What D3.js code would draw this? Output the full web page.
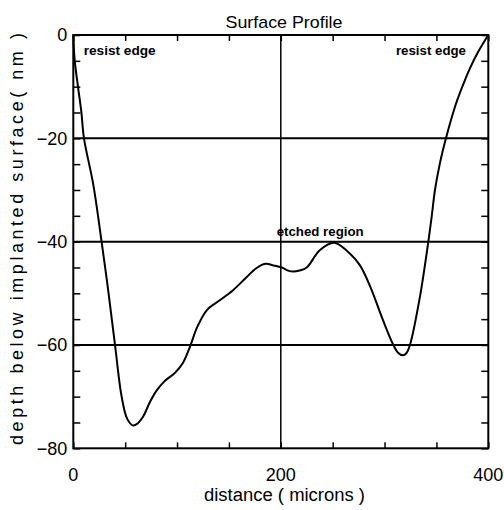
<!DOCTYPE html>
<html>
<head>
<meta charset="utf-8">
<script src="https://cdn.jsdelivr.net/npm/d3@7"></script>
<style>
  body { margin: 0; background: #fff; }
  text { font-family: "Liberation Sans", Arial, sans-serif; fill: #000; }
</style>
</head>
<body>
<svg id="chart"></svg>
<script>
// profile: distance (microns) and depth (nm)
const distance = [0, 1.3, 4.5, 7.7, 10.3, 19.3, 27.4, 34, 40.2, 46.6, 52, 57.8, 62, 67.2, 74, 80.4, 88, 98, 105.6,
  112.7, 119.5, 129, 141.6, 154, 167.4, 176, 185, 193, 201, 207, 212, 218, 225, 237.8, 251.5, 263.8, 276,
  286, 298.5, 308, 313, 317.8, 321, 324.5, 334, 342.2, 345.4, 348.6, 353.4, 359.2, 367.9, 374.4, 382.4, 390.4, 400];
const depth = [0, -4.8, -10, -14.8, -20, -29, -40.2, -50, -60, -70, -74.3, -75.6, -75.2, -73.9, -71, -68.8, -67, -65.4, -63.5,
  -60.2, -56.5, -53.2, -51.3, -49.4, -46.8, -45.2, -44.3, -44.6, -45, -45.6, -45.8, -45.6, -45, -41.6, -40.2, -41.8, -44.5,
  -48.6, -55.2, -59.8, -61.5, -62, -61.6, -60, -50.8, -40, -35.2, -30, -24.8, -20, -13.9, -10.3, -6.4, -3.2, 0];

const xLabels = [0, 200, 400];
const yLabels = [0, -20, -40, -60, -80];
const hGrid = [-20, -40, -60];
const vGrid = [200];
const notes = [
  {text: "resist edge", x: 10, y: -3.8, len: 72},
  {text: "resist edge", x: 311, y: -3.8, len: 70},
  {text: "etched region", x: 196, y: -38.9, len: 87}
];

const width = 504, height = 510;
const margin_left = 73.3, margin_top = 35, plot_w = 415, plot_h = 413.3;

const svg = d3.select("#chart").attr("width", width).attr("height", height);
const g = svg.append("g").attr("transform", "translate(" + margin_left + "," + margin_top + ")");

const x = d3.scaleLinear().domain([0, 400]).range([0, plot_w]);
const y = d3.scaleLinear().domain([-80, 0]).range([plot_h, 0]);

// inward ticks on all four sides
const xt = d3.range(0, 401, 50), yt = d3.range(-80, 1, 5);
g.append("g").call(d3.axisBottom(x).tickValues(xt).tickSize(-6).tickFormat(""))
  .attr("transform", "translate(0," + plot_h + ")");
g.append("g").call(d3.axisTop(x).tickValues(xt).tickSize(-6).tickFormat(""));
g.append("g").call(d3.axisLeft(y).tickValues(yt).tickSize(-7).tickFormat(""));
g.append("g").call(d3.axisRight(y).tickValues(yt).tickSize(-7).tickFormat(""))
  .attr("transform", "translate(" + plot_w + ",0)");
g.selectAll(".domain").remove();
g.selectAll(".tick line").attr("stroke", "#000").attr("stroke-width", 1.5);

// grid lines
g.selectAll(".hgrid").data(hGrid).enter().append("line")
  .attr("x1", 0).attr("x2", plot_w)
  .attr("y1", d => y(d)).attr("y2", d => y(d))
  .attr("stroke", "#000").attr("stroke-width", 2);
g.selectAll(".vgrid").data(vGrid).enter().append("line")
  .attr("x1", d => x(d)).attr("x2", d => x(d))
  .attr("y1", 0).attr("y2", plot_h)
  .attr("stroke", "#000").attr("stroke-width", 1.5);

// frame
g.append("rect").attr("width", plot_w).attr("height", plot_h)
  .attr("fill", "none").attr("stroke", "#000").attr("stroke-width", 2);

// tick labels
g.selectAll(".xl").data(xLabels).enter().append("text")
  .attr("x", d => x(d)).attr("y", plot_h + 33)
  .attr("text-anchor", "middle").style("font-size", "18px")
  .text(d => d);
g.selectAll(".yl").data(yLabels).enter().append("text")
  .attr("x", -6).attr("y", d => y(d)).attr("dy", "0.35em")
  .attr("text-anchor", "end").style("font-size", "18px")
  .text(d => d < 0 ? "\u2212" + Math.abs(d) : d);

// profile curve
const line = d3.line()
  .x((d, i) => x(distance[i]))
  .y((d, i) => y(depth[i]))
  .curve(d3.curveCatmullRom);
g.append("path").datum(distance)
  .attr("d", line).attr("fill", "none")
  .attr("stroke", "#000").attr("stroke-width", 2);

// annotations
g.selectAll(".note").data(notes).enter().append("text")
  .attr("x", d => x(d.x)).attr("y", d => y(d.y))
  .attr("textLength", d => d.len).attr("lengthAdjust", "spacingAndGlyphs")
  .style("font-size", "13px").style("font-weight", "bold")
  .text(d => d.text);

// titles
svg.append("text").attr("x", 284).attr("y", 28)
  .attr("text-anchor", "middle").style("font-size", "17px")
  .attr("textLength", 117).attr("lengthAdjust", "spacingAndGlyphs")
  .text("Surface Profile");
svg.append("text").attr("x", 284.5).attr("y", 501)
  .attr("text-anchor", "middle").style("font-size", "18px")
  .attr("textLength", 161).attr("lengthAdjust", "spacingAndGlyphs")
  .text("distance ( microns )");
svg.append("text").attr("transform", "translate(23,239) rotate(-90)")
  .attr("text-anchor", "middle").style("font-size", "18px")
  .attr("textLength", 412).attr("lengthAdjust", "spacing")
  .text("depth below implanted surface( nm )");
</script>
</body>
</html>
